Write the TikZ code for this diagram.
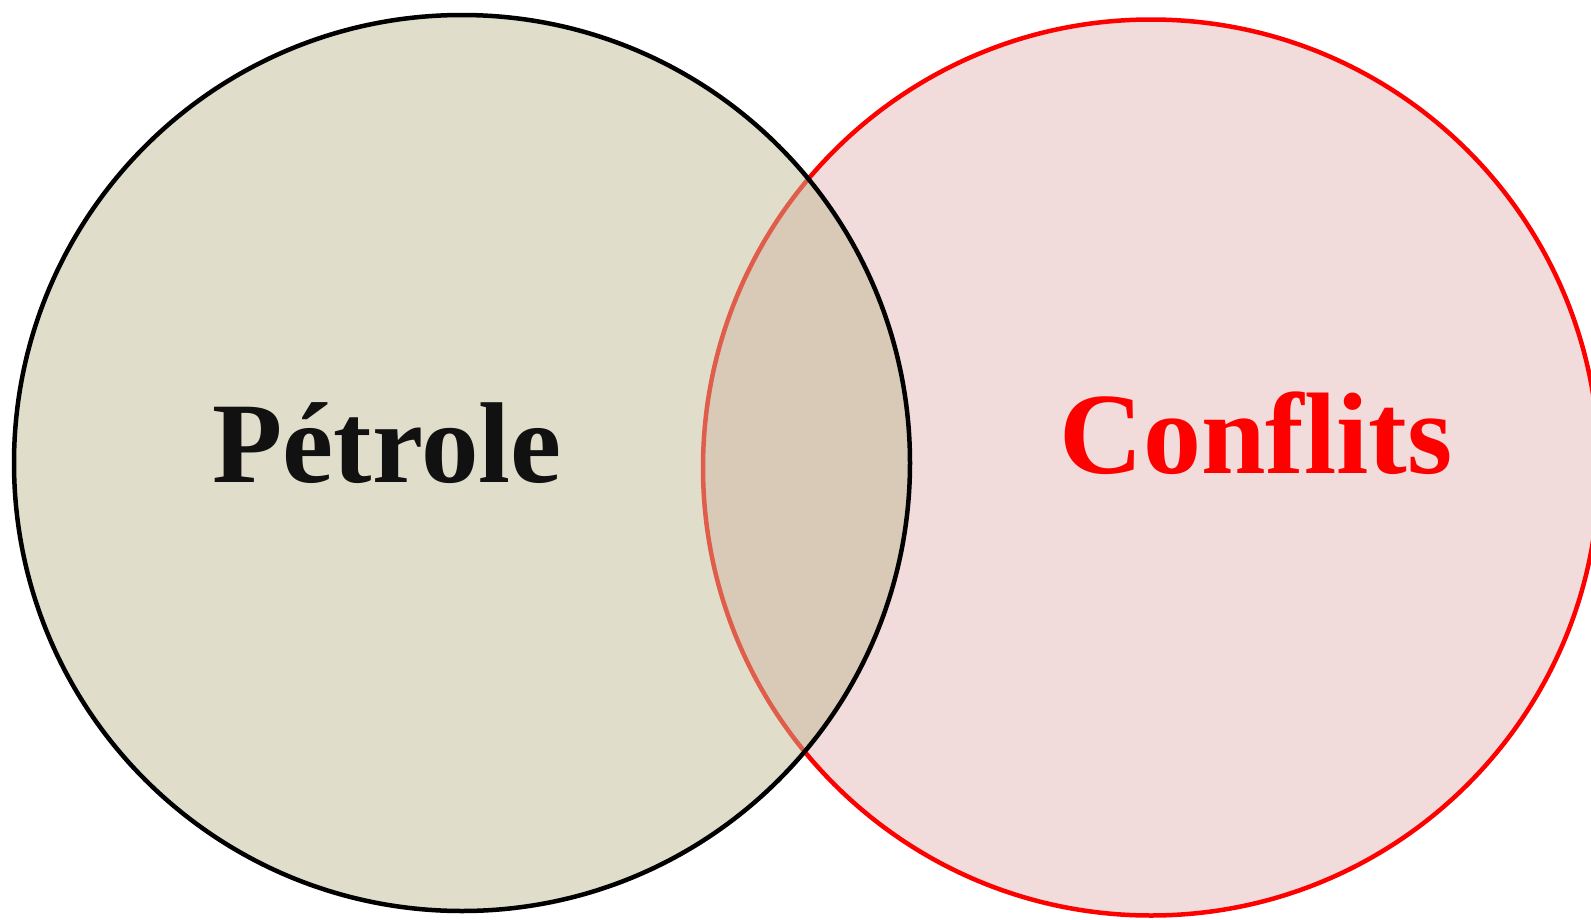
\documentclass[tikz,border=0pt]{standalone}
\usepackage{fontspec}
\setmainfont{Liberation Serif}
\definecolor{leftfill}{RGB}{193,187,149}
\definecolor{rightfill}{RGB}{241,219,219}
\definecolor{textblack}{RGB}{17,17,17}
\begin{document}
\begin{tikzpicture}[x=1pt,y=-1pt,
  setcircle/.style={line width=4.5pt},
  labeltext/.style={anchor=base,inner sep=0pt,font=\bfseries}]
\clip (0,0) rectangle (1591,919);
\useasboundingbox (0,0) rectangle (1591,919);
\node[setcircle,circle,minimum size=896pt,fill=rightfill,draw=red] (conf) at (1151,467.5) {};
\node[setcircle,circle,minimum size=896pt,fill=leftfill,fill opacity=0.5,draw=black,draw opacity=1] (petr) at (462,463) {};
\node[labeltext,text=textblack,font=\bfseries\fontsize{115}{120}\selectfont] (lp) at (387,482) {Pétrole};
\node[labeltext,text=red,font=\bfseries\fontsize{116}{120}\selectfont] (lc) at (1256,473) {Conflits};
\end{tikzpicture}
\end{document}
